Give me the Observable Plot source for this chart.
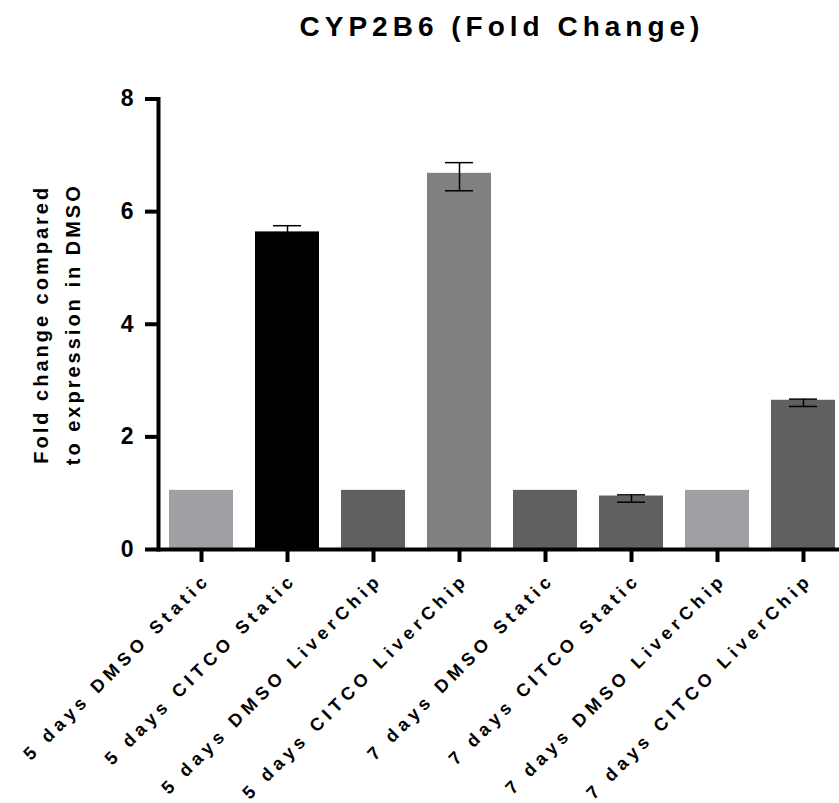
<!DOCTYPE html>
<html>
<head>
<meta charset="utf-8">
<script src="https://cdn.jsdelivr.net/npm/d3@7"></script>
<script src="https://cdn.jsdelivr.net/npm/@observablehq/plot@0.6"></script>
<style>
  html, body { margin: 0; padding: 0; background: #fff; }
  #wrap { position: relative; width: 839px; height: 803px; font-family: "Liberation Sans", Arial, sans-serif; }
  #title { position: absolute; left: 0; top: 13px; width: 839px; padding-left: 165px; box-sizing: border-box;
           text-align: center; font-size: 28px; line-height: 28px; font-weight: bold; letter-spacing: 5px; color: #000; }
  #chart { position: absolute; left: 0; top: 60px; }
</style>
</head>
<body>
<div id="wrap">
  <div id="title">CYP2B6 (Fold Change)</div>
  <div id="chart"></div>
</div>
<script>
const categories = [
  "5 days DMSO Static",
  "5 days CITCO Static",
  "5 days DMSO LiverChip",
  "5 days CITCO LiverChip",
  "7 days DMSO Static",
  "7 days CITCO Static",
  "7 days DMSO LiverChip",
  "7 days CITCO LiverChip"
];
const values  = [1.05, 5.64, 1.05, 6.68, 1.05, 0.95, 1.05, 2.65];
const errLow  = [null, 5.53, null, 6.37, null, 0.84, null, 2.54];
const errHigh = [null, 5.75, null, 6.87, null, 0.97, null, 2.67];
const barColors = ["#a0a0a4", "#000000", "#606060", "#808080", "#606060", "#606060", "#a0a0a4", "#606060"];
const yTicks = [0, 2, 4, 6, 8];
const yLabel = "Fold change compared\nto expression in DMSO";

const rows = categories.map((c, i) => ({cat: c, value: values[i], lo: errLow[i], hi: errHigh[i], color: barColors[i]}));
const errRows = rows.filter(d => d.lo != null);

const plot = Plot.plot({
  width: 839,
  height: 743,
  marginLeft: 158,
  marginRight: -7,
  marginTop: 38.5,
  marginBottom: 254,
  style: {fontFamily: "'Liberation Sans', Arial, sans-serif", color: "#000", background: "#fff"},
  x: {domain: categories, paddingInner: 0.256, paddingOuter: 0.128},
  y: {domain: [0, 8]},
  marks: [
    Plot.barY(rows, {x: "cat", y: "value", fill: "color"}),
    Plot.ruleX(errRows, {x: "cat", y1: "lo", y2: "hi", stroke: "#000", strokeWidth: 1.5}),
    Plot.tickY(errRows, {x: "cat", y: "hi", stroke: "#000", strokeWidth: 1.5, insetLeft: 18, insetRight: 18}),
    Plot.tickY(errRows, {x: "cat", y: "lo", stroke: "#000", strokeWidth: 1.5, insetLeft: 18, insetRight: 18}),
    Plot.frame({anchor: "left", stroke: "#000", strokeWidth: 4, strokeLinecap: "square"}),
    Plot.ruleY([0], {stroke: "#000", strokeWidth: 4}),
    Plot.axisY({ticks: yTicks, tickSize: 13, tickPadding: 12, strokeWidth: 4, fontSize: 23, fontWeight: "bold", label: null, tickFormat: d3.format("d")}),
    Plot.axisX({tickSize: 13, strokeWidth: 4, tickFormat: () => "", label: null}),
    Plot.text(categories, {x: d => d, frameAnchor: "bottom", rotate: -45, textAnchor: "end", lineAnchor: "bottom",
      dx: 10, dy: 31, fontSize: 18, fontWeight: "bold", fill: "#000"}),
    Plot.text([yLabel], {frameAnchor: "left", rotate: -90, dx: -105, textAnchor: "middle", lineAnchor: "middle",
      lineHeight: 1.6, fontSize: 20, fontWeight: "bold", fill: "#000"})
  ]
});
document.getElementById("chart").appendChild(plot);
d3.select(plot).selectAll("text").each(function() {
  const t = this.textContent;
  if (categories.includes(t)) this.setAttribute("letter-spacing", "4.8");
  else if (t.indexOf("Fold") >= 0 || t.indexOf("expression") >= 0) this.setAttribute("letter-spacing", "3");
});
</script>
</body>
</html>
